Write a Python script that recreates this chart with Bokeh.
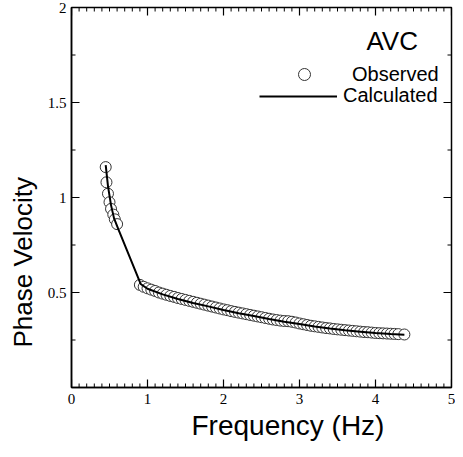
import math
from bokeh.plotting import figure
from bokeh.models import FixedTicker, Legend, LegendItem, Label, Range1d, Title
from bokeh.embed import file_html
from bokeh.resources import INLINE

# Observed phase velocities (two branches)
freq_obs = [0.45, 0.46, 0.48, 0.50, 0.52, 0.55, 0.57, 0.60,
            0.90, 0.95, 1.00, 1.05, 1.10, 1.15, 1.20, 1.25, 1.30, 1.35,
            1.40, 1.45, 1.50, 1.55, 1.60, 1.65, 1.70, 1.75, 1.80, 1.85,
            1.90, 1.95, 2.00, 2.05, 2.10, 2.15, 2.20, 2.25, 2.30, 2.35,
            2.40, 2.45, 2.50, 2.55, 2.60, 2.65, 2.70, 2.75, 2.80, 2.85,
            2.90, 2.95, 3.00, 3.05, 3.10, 3.15, 3.20, 3.25, 3.30, 3.35,
            3.40, 3.45, 3.50, 3.55, 3.60, 3.65, 3.70, 3.75, 3.80, 3.85,
            3.90, 3.95, 4.00, 4.05, 4.10, 4.15, 4.20, 4.25, 4.30, 4.38]
vel_obs = [1.16, 1.08, 1.02, 0.975, 0.94, 0.91, 0.885, 0.86,
           0.540, 0.530, 0.522, 0.515, 0.508, 0.500, 0.494, 0.488, 0.482, 0.477,
           0.471, 0.466, 0.461, 0.456, 0.451, 0.446, 0.441, 0.436, 0.431, 0.426,
           0.421, 0.416, 0.411, 0.407, 0.402, 0.398, 0.394, 0.390, 0.386, 0.382,
           0.378, 0.374, 0.370, 0.366, 0.362, 0.358, 0.355, 0.352, 0.350, 0.349,
           0.346, 0.342, 0.337, 0.333, 0.329, 0.325, 0.322, 0.319, 0.316, 0.313,
           0.311, 0.308, 0.306, 0.304, 0.302, 0.300, 0.298, 0.296, 0.294, 0.292,
           0.291, 0.289, 0.287, 0.286, 0.285, 0.284, 0.283, 0.282, 0.281, 0.279]

# Calculated dispersion curve
freq_calc = [0.45, 0.48, 0.52, 0.56, 0.62, 0.91, 1.0, 1.2, 1.4, 1.6, 1.8,
             2.0, 2.2, 2.4, 2.6, 2.8, 3.0, 3.2, 3.4, 3.6, 3.8, 4.0, 4.2, 4.38]
vel_calc = [1.17, 1.06, 0.96, 0.89, 0.83, 0.545, 0.52, 0.49, 0.466, 0.445, 0.427,
            0.408, 0.391, 0.376, 0.360, 0.346, 0.334, 0.321, 0.310, 0.301, 0.294,
            0.287, 0.282, 0.278]

# Axis ticks and tick labels
x_major = [0, 1, 2, 3, 4, 5]
x_labeled = [0, 1, 2, 3, 4, 5]
x_minor = [i / 10 for i in range(0, 51) if i % 10 != 0]
y_major = [0, 0.5, 1, 1.5, 2]
y_labeled = [0.5, 1, 1.5, 2]
y_label_text = {0.5: "0.5", 1: "1", 1.5: "1.5", 2: "2"}
y_minor = [0.25, 0.75, 1.25, 1.75]
X_MIN, X_MAX, Y_MIN, Y_MAX = 0, 5, 0, 2

SERIF = "Liberation Serif"
SANS = "Liberation Sans"

p = figure(frame_width=380, frame_height=380,
           x_range=Range1d(X_MIN, X_MAX), y_range=Range1d(Y_MIN, Y_MAX),
           output_backend="svg", toolbar_location=None,
           min_border_left=71, min_border_top=7, min_border_right=4,
           min_border_bottom=50)
p.grid.visible = False
p.outline_line_color = "black"
p.outline_line_width = 1.5
p.background_fill_color = "white"
p.border_fill_color = "white"

for ax, ticks in ((p.xaxis[0], x_labeled), (p.yaxis[0], y_labeled)):
    ax.ticker = FixedTicker(ticks=ticks, minor_ticks=[])
    ax.axis_line_color = "black"
    ax.axis_line_width = 1.5
    ax.major_tick_in = 0
    ax.major_tick_out = 0
    ax.minor_tick_in = 0
    ax.minor_tick_out = 0
    ax.major_label_text_font = SERIF
    ax.major_label_text_font_size = "15px"
    ax.major_label_text_color = "black"
p.xaxis[0].major_label_standoff = 6
p.yaxis[0].major_label_standoff = 5
p.yaxis[0].major_label_overrides = y_label_text

# Inward ticks on all four sides (length in screen pixels)
TICK_KW = dict(line_color="black", length_units="screen")
p.ray(x=x_major, y=Y_MIN, length=8, angle=math.pi / 2, line_width=1.2, **TICK_KW)
p.ray(x=x_minor, y=Y_MIN, length=4, angle=math.pi / 2, line_width=1, **TICK_KW)
p.ray(x=x_major, y=Y_MAX, length=8, angle=-math.pi / 2, line_width=1.2, **TICK_KW)
p.ray(x=x_minor, y=Y_MAX, length=4, angle=-math.pi / 2, line_width=1, **TICK_KW)
p.ray(x=X_MIN, y=y_major, length=8, angle=0, line_width=1.2, **TICK_KW)
p.ray(x=X_MIN, y=y_minor, length=4, angle=0, line_width=1, **TICK_KW)
p.ray(x=X_MAX, y=y_major, length=8, angle=math.pi, line_width=1.2, **TICK_KW)
p.ray(x=X_MAX, y=y_minor, length=4, angle=math.pi, line_width=1, **TICK_KW)

r_obs = p.scatter(freq_obs, vel_obs, marker="circle", size=11,
                  fill_color="white", line_color="#333333", line_width=1)
r_calc = p.line(freq_calc, vel_calc, line_color="black", line_width=2)

LEG_KW = dict(padding=0, margin=0, spacing=0, border_line_color=None,
              background_fill_alpha=0, label_text_font=SANS,
              label_text_font_size="20px", label_text_color="black")
p.add_layout(Legend(items=[LegendItem(label="Observed", renderers=[r_obs])],
                    location=(218, 298), glyph_width=30, glyph_height=30,
                    label_height=30, label_standoff=33, **LEG_KW))
p.add_layout(Legend(items=[LegendItem(label="Calculated", renderers=[r_calc])],
                    location=(188, 280), glyph_width=78, glyph_height=22,
                    label_height=22, label_standoff=6, **LEG_KW))

p.add_layout(Label(x=4.22, y=1.826, text="AVC", text_align="center",
                   text_baseline="middle", text_font=SANS,
                   text_font_size="26px", text_color="black"))

# Axis titles (offset from centre as in the original)
p.add_layout(Title(text="Frequency (Hz)", align="left", offset=120,
                   standoff=2, text_font=SANS, text_font_size="28px",
                   text_font_style="normal", text_color="black"), "below")
p.add_layout(Title(text="Phase Velocity", align="left", offset=40,
                   vertical_align="top", standoff=10, text_font=SANS,
                   text_font_size="26px", text_font_style="normal",
                   text_color="black"), "left")

open("out.html", "w").write(file_html(p, INLINE))
